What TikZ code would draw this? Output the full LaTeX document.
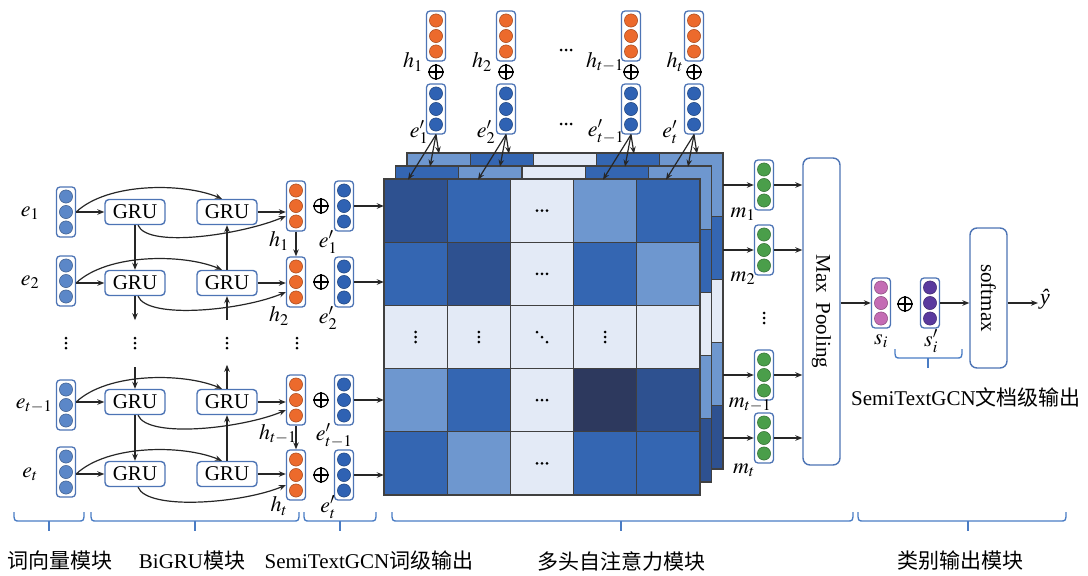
\documentclass[tikz,border=0pt]{standalone}
\usepackage{mathptmx}
\usepackage{fontspec}
\setmainfont{Liberation Serif}
\newfontfamily\cjk{Noto Sans CJK SC}
\usetikzlibrary{arrows.meta,calc}

\definecolor{vb}{HTML}{4D74B5}
\definecolor{ce}{HTML}{5B87C8}
\definecolor{cep}{HTML}{2F62B3}
\definecolor{co}{HTML}{EC6A2C}
\definecolor{cg}{HTML}{4A9E4A}
\definecolor{cpk}{HTML}{C46CB4}
\definecolor{cpu}{HTML}{5A3A9E}
\definecolor{mD}{HTML}{2E5190}
\definecolor{mM}{HTML}{3466B2}
\definecolor{mT}{HTML}{6E97CF}
\definecolor{mL}{HTML}{E3EAF6}
\definecolor{mV}{HTML}{2D395E}
\definecolor{brc}{HTML}{4A7CC4}

\tikzset{
 vecbox/.style={draw=vb, line width=1.3pt, rounded corners=3.5pt, fill=white, minimum width=19pt, minimum height=50pt, inner sep=0pt},
 grubox/.style={draw=vb, line width=1.4pt, rounded corners=4pt, fill=white, minimum width=60pt, minimum height=25pt, inner sep=0pt, font=\fontsize{21}{22}\selectfont},
 arr/.style={-{Stealth[length=7pt,width=5.5pt]}, line width=1.2pt, black!85},
 lab/.style={font=\fontsize{22}{22}\selectfont, inner sep=0pt},
 blab/.style={font=\fontsize{21}{24}\selectfont, inner sep=0pt},
 tallbox/.style={draw=vb, line width=1.4pt, rounded corners=7pt, fill=white, inner sep=0pt, minimum width=37pt},
 bracel/.style={draw=brc, line width=1.3pt},
 cell/.style={draw=black!75, line width=1.2pt},
 opl/.style={circle, draw, line width=1.1pt, minimum size=14pt, inner sep=0pt},
}

\newcommand\vecn[4]{%
 \node[vecbox] (#1) at (#2,#3) {};
 \foreach \dy in {-15.5,0,15.5} \filldraw[fill=#4, draw=#4!70!black, line width=0.5pt] ($(#1.center)+(0,\dy)$) circle (6.6pt);
}
\newcommand\oplusn[3]{%
 \node[opl] (#1) at (#2,#3) {};
 \draw[line width=1.1pt] (#1.north) -- (#1.south) (#1.west) -- (#1.east);
}
\newcommand\vdts[2]{\foreach \d in {-5,0,5} \fill (#1,#2+\d) circle (1.5pt);}
\newcommand\hdts[2]{\foreach \d in {-5,0,5} \fill (#1+\d,#2) circle (1.5pt);}
\newcommand\layer[3]{%
 \foreach[count=\r from 0] \row in {#3} {
   \foreach[count=\c from 0] \col in \row {
     \filldraw[cell, fill=\col] ({#1+\c*63.2},{#2+\r*63.2}) rectangle ++(63.2,63.2);
   }
 }
 \draw[cell] (#1,#2) rectangle ++(316,316);
}
\newcommand\brc[4]{% x1 x2 xc y
 \draw[bracel] (#1,#4-9) .. controls (#1,#4) .. (#1+6,#4) -- (#2-6,#4) .. controls (#2,#4) .. (#2,#4-9);
 \draw[bracel] (#3,#4) -- (#3,#4+10);
}

\begin{document}
\begin{tikzpicture}[x=1pt,y=-1pt]
\useasboundingbox (0,0) rectangle (1088,576);

% ---------- left: embeddings ----------
\vecn{e1}{66}{212}{ce}
\vecn{e2}{66}{281}{ce}
\vecn{e3}{66}{405}{ce}
\vecn{e4}{66}{472}{ce}
\node[lab] (le1) at (30,213) {$e_{1}$};
\node[lab] (le2) at (30,282) {$e_{2}$};
\node[lab] (le3) at (34,406) {$e_{t-1}$};
\node[lab] (le4) at (30,474) {$e_{t}$};

% ---------- GRUs ----------
\node[grubox] (g11) at (135,212) {GRU};
\node[grubox] (g12) at (227,212) {GRU};
\node[grubox] (g21) at (135,283) {GRU};
\node[grubox] (g22) at (227,283) {GRU};
\node[grubox] (g31) at (135,402) {GRU};
\node[grubox] (g32) at (227,402) {GRU};
\node[grubox] (g41) at (135,474) {GRU};
\node[grubox] (g42) at (227,474) {GRU};

% ---------- h and e' ----------
\vecn{h1}{296}{206}{co}
\vecn{h2}{296}{282}{co}
\vecn{h3}{296}{400}{co}
\vecn{h4}{296}{475}{co}
\vecn{p1}{344}{206}{cep}
\vecn{p2}{344}{282}{cep}
\vecn{p3}{344}{400}{cep}
\vecn{p4}{344}{475}{cep}
\oplusn{o1}{321}{206}
\oplusn{o2}{321}{282}
\oplusn{o3}{321}{400}
\oplusn{o4}{321}{475}
\node[lab] (lh1) at (279,241) {$h_{1}$};
\node[lab] (lh2) at (279,316) {$h_{2}$};
\node[lab] (lh3) at (278,434) {$h_{t-1}$};
\node[lab] (lh4) at (279,506) {$h_{t}$};
\node[lab] (lp1) at (328,242) {$e'_{1}$};
\node[lab] (lp2) at (328,318) {$e'_{2}$};
\node[lab] (lp3) at (334,436) {$e'_{t-1}$};
\node[lab] (lp4) at (328,507) {$e'_{t}$};

% horizontal GRU arrows
\foreach \i in {1,2,3,4} {
  \draw[arr] (g\i1.west -| e\i.east) -- (g\i1.west);
  \draw[arr] (g\i1.west -| e\i.east) .. controls +(32,-30) and +(-38,-16) .. ($(g\i2.north)+(-5,0)$);
  \draw[arr] (g\i2.east) -- (g\i2.east -| h\i.west);
  \draw[arr] ($(g\i1.south)+(3,0)$) .. controls +(10,24) and +(-42,18) .. ($(h\i.west)+(0,10)$);
}
% vertical GRU arrows
\draw[arr] (g11.south) -- (g21.north);
\draw[arr] (g22.north) -- (g12.south);
\draw[arr] (g21.south) -- ++(0,24);
\coordinate (u2) at (227,320);
\draw[arr] (u2) -- (g22.south);
\coordinate (d3) at (135,367);
\draw[arr] (d3) -- (g31.north);
\draw[arr] (g32.north) -- ++(0,-24);
\draw[arr] (g31.south) -- (g41.north);
\draw[arr] (g42.north) -- (g32.south);
\draw[arr] (h1.south) -- (h2.north);
\draw[arr] (h3.south) -- (h4.north);

% vertical dots
\vdts{66}{343}
\vdts{135}{343}
\vdts{227}{343}
\vdts{297}{343}

% ---------- attention matrices ----------
\layer{407}{153}{{mT,mM,mL,mM,mT},{mM,mM,mL,mM,mM},{mL,mL,mL,mL,mL},{mT,mT,mL,mT,mT},{mD,mD,mL,mD,mD}}
\layer{395.5}{166}{{mM,mT,mL,mM,mT},{mM,mM,mL,mM,mM},{mL,mL,mL,mL,mL},{mT,mT,mL,mT,mT},{mD,mD,mL,mD,mD}}
\layer{384}{179}{{mD,mM,mL,mT,mM},{mM,mD,mL,mM,mT},{mL,mL,mL,mL,mL},{mT,mM,mL,mV,mD},{mM,mT,mL,mM,mM}}
\node[minimum width=316pt, minimum height=316pt, inner sep=0pt] (M) at (542,337) {};
\node[minimum width=316pt, minimum height=316pt, inner sep=0pt] (L3) at (565,311) {};
\hdts{542}{210.6}
\hdts{542}{273.8}
\hdts{542}{400.2}
\hdts{542}{463.4}
\vdts{415.6}{337}
\vdts{478.8}{337}
\vdts{605.2}{337}
\foreach \d in {-5,0,5} \fill (542+\d,337+\d) circle (1.5pt);

\foreach \i in {1,2,3,4} \draw[arr] (p\i.east) -- (p\i.east -| M.west);

% ---------- top vectors ----------
\foreach \n/\x in {1/436,2/506,3/631,4/694} {
  \vecn{th\n}{\x}{36}{co}
  \oplusn{to\n}{\x}{72}
  \vecn{te\n}{\x}{109}{cep}
}
\node[lab] (lth1) at (413,62) {$h_{1}$};
\node[lab] (lth2) at (482,62) {$h_{2}$};
\node[lab] (lth3) at (605,62) {$h_{t-1}$};
\node[lab] (lth4) at (675,62) {$h_{t}$};
\node[lab] (lte1) at (419,132) {$e'_{1}$};
\node[lab] (lte2) at (486,132) {$e'_{2}$};
\node[lab] (lte3) at (606,132) {$e'_{t-1}$};
\node[lab] (lte4) at (670,132) {$e'_{t}$};
\hdts{566}{50}
\hdts{566}{124}
\foreach \n in {1,2,3,4} {
  \draw[arr] (te\n.south) -- ++(-28,45);
  \draw[arr] (te\n.south) -- ++(-6,32);
  \draw[arr] (te\n.south) -- ++(3,19);
}

% ---------- m vectors & max pooling ----------
\vecn{m1}{764}{185}{cg}
\vecn{m2}{764}{250}{cg}
\vecn{m3}{764}{375}{cg}
\vecn{m4}{764}{438}{cg}
\vdts{764}{318}
\node[lab] (lm1) at (743,214) {$m_{1}$};
\node[lab] (lm2) at (743,278) {$m_{2}$};
\node[lab] (lm3) at (750,405) {$m_{t-1}$};
\node[lab] (lm4) at (744,470) {$m_{t}$};
\node[tallbox, minimum height=307pt] (MP) at (821.5,311.5) {};
\node[lab, font=\fontsize{21}{22}\selectfont, rotate=-90] (MPt) at (MP.center) {Max\hspace{0.2em} Pooling};
\foreach \i in {1,2,3,4} {
  \draw[arr] (m\i.west -| L3.east) -- (m\i.west);
  \draw[arr] (m\i.east) -- (m\i.east -| MP.west);
}

% ---------- output ----------
\vecn{s}{881}{303}{cpk}
\vecn{sp}{930}{303}{cpu}
\oplusn{os}{905}{304}
\node[lab] (ls) at (881,341) {$s_{i}$};
\node[lab] (lsp) at (931,341) {$s'_{i}$};
\draw[arr] (s.west -| MP.east) -- (s.west);
\node[tallbox, minimum height=140pt] (SM) at (988.5,298) {};
\node[lab, font=\fontsize{21}{22}\selectfont, rotate=-90] (SMt) at (SM.center) {softmax};
\draw[arr] (sp.east) -- (sp.east -| SM.west);
\node[lab] (yh) at (1045,299) {\textit{ŷ}};
\draw[arr] (SM.east |- sp.east) -- ($(yh.west |- sp.east)+(-2,0)$);
\brc{895}{962}{928}{358}
\node[blab] (lsg) at (966,397) {SemiTextGCN{\cjk 文档级输出}};

% ---------- bottom braces and labels ----------
\brc{14}{84}{49}{521}
\brc{91}{299}{195}{521}
\brc{304}{376}{340}{521}
\brc{392}{853}{621}{521}
\brc{858}{1066}{968}{521}
\node[blab] (b1) at (60,561) {\cjk 词向量模块};
\node[blab] (b2) at (192,561) {BiGRU{\cjk 模块}};
\node[blab] (b3) at (369,561) {SemiTextGCN{\cjk 词级输出}};
\node[blab] (b4) at (621,561) {\cjk 多头自注意力模块};
\node[blab] (b5) at (960,561) {\cjk 类别输出模块};
\end{tikzpicture}
\end{document}
